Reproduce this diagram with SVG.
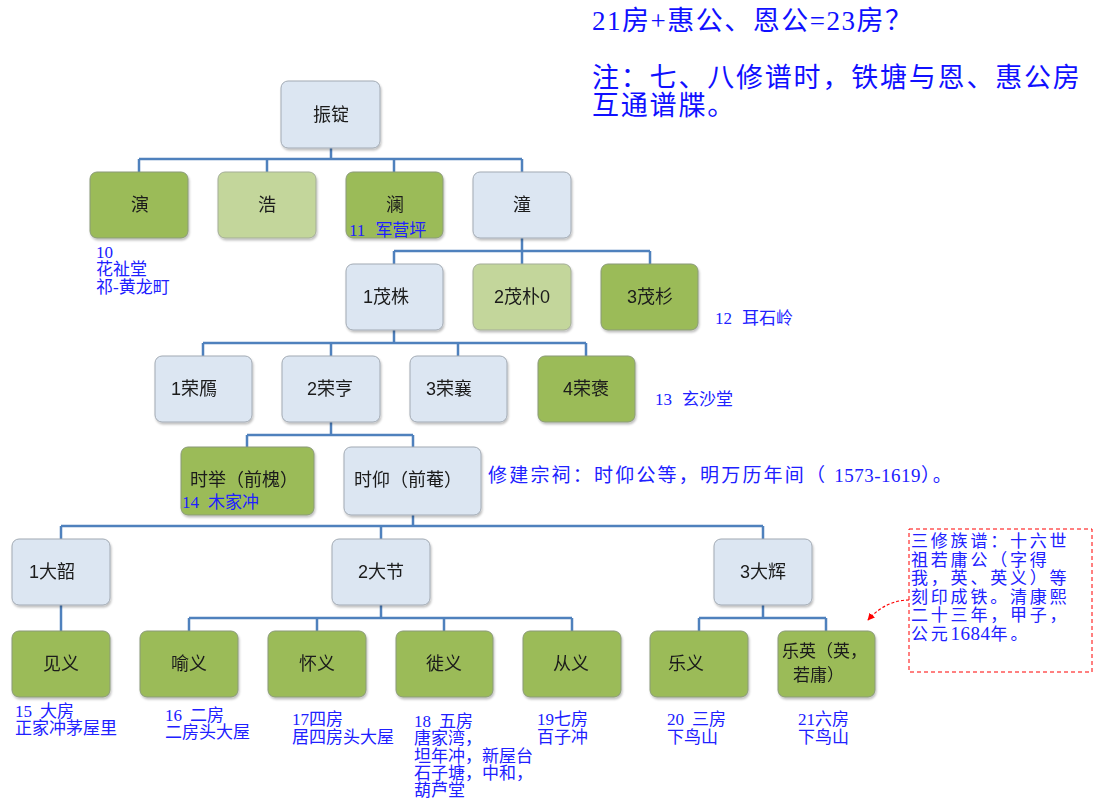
<svg xmlns="http://www.w3.org/2000/svg" width="1101" height="808" viewBox="0 0 1101 808">
<style>
.blue{fill:#dce6f2;stroke:#a2aab4;stroke-width:1}
.dg{fill:#9bbb59;stroke:#8a9a78;stroke-width:1}
.lg{fill:#c3d69b;stroke:#a4ad98;stroke-width:1}
.nt{font-family:"Liberation Sans","Noto Sans CJK SC",sans-serif;font-size:18px;fill:#1a1a1a;text-anchor:middle}
.ann{font-family:"Liberation Serif","Noto Sans CJK SC",serif;font-size:17px;fill:#2020ff}
.con{fill:none;stroke:#4f81bd;stroke-width:2.5}
.num{letter-spacing:0.5px}
</style>
<defs>
<filter id="sh" x="-10%" y="-10%" width="130%" height="130%">
<feDropShadow dx="1" dy="2" stdDeviation="1.2" flood-color="#000" flood-opacity="0.25"/>
</filter>
<marker id="ah" viewBox="0 0 10 10" refX="9" refY="5" markerWidth="6" markerHeight="6" orient="auto">
<path d="M0,0 L10,5 L0,10 z" fill="#ff0000"/>
</marker>
</defs>
<rect width="1101" height="808" fill="#ffffff"/>

<g id="connectors">
<path class="con" d="M331,148V159 M139,159H522 M139,159V172 M267,159V172 M394,159V172 M522,159V172"/>
<path class="con" d="M522,238V251 M394,251H650 M394,251V264 M522,251V264 M650,251V264"/>
<path class="con" d="M394,330V343 M203,343H586 M203,343V356 M331,343V356 M458,343V356 M586,343V356"/>
<path class="con" d="M331,422V435 M247,435H413 M247,435V447 M413,435V447"/>
<path class="con" d="M413,515V526 M61,526H763 M61,526V539 M381,526V539 M763,526V539"/>
<path class="con" d="M61,605V631"/>
<path class="con" d="M381,605V618 M189,618H572 M189,618V631 M317,618V631 M444,618V631 M572,618V631"/>
<path class="con" d="M763,605V618 M699,618H826 M699,618V631 M826,618V631"/>
<path d="M909,600 C895,600 880,606 868,620" fill="none" stroke="#ff0000" stroke-width="1.2" stroke-dasharray="3,2" marker-end="url(#ah)"/>
</g>

<g id="n-root" filter="url(#sh)"><rect class="blue" x="281" y="81" width="99" height="67" rx="7"/><text class="nt" x="331" y="121">振锭</text></g>
<g id="n-yan" filter="url(#sh)"><rect class="dg" x="90" y="172" width="98" height="66" rx="7"/><text class="nt" x="140" y="211">演</text></g>
<g id="n-hao" filter="url(#sh)"><rect class="lg" x="218" y="172" width="98" height="66" rx="7"/><text class="nt" x="267" y="211">浩</text></g>
<g id="n-lan" filter="url(#sh)"><rect class="dg" x="346" y="172" width="97" height="66" rx="7"/><text class="nt" x="395" y="211">澜</text></g>
<g id="n-tong" filter="url(#sh)"><rect class="blue" x="473" y="172" width="98" height="66" rx="7"/><text class="nt" x="522" y="211">潼</text></g>

<g id="n-maozhu" filter="url(#sh)"><rect class="blue" x="346" y="264" width="97" height="66" rx="7"/><text class="nt" x="386" y="303">1茂株</text></g>
<g id="n-maopu" filter="url(#sh)"><rect class="lg" x="473" y="264" width="98" height="66" rx="7"/><text class="nt" x="522" y="303">2茂朴0</text></g>
<g id="n-maoshan" filter="url(#sh)"><rect class="dg" x="601" y="264" width="97" height="66" rx="7"/><text class="nt" x="650" y="303">3茂杉</text></g>

<g id="n-rongyan" filter="url(#sh)"><rect class="blue" x="155" y="356" width="97" height="66" rx="7"/><text class="nt" x="194" y="395">1荣鴈</text></g>
<g id="n-rongheng" filter="url(#sh)"><rect class="blue" x="282" y="356" width="98" height="66" rx="7"/><text class="nt" x="330" y="395">2荣亨</text></g>
<g id="n-rongxiang" filter="url(#sh)"><rect class="blue" x="410" y="356" width="97" height="66" rx="7"/><text class="nt" x="449" y="395">3荣襄</text></g>
<g id="n-rongbao" filter="url(#sh)"><rect class="dg" x="538" y="356" width="97" height="66" rx="7"/><text class="nt" x="586" y="395">4荣褒</text></g>

<g id="n-shiju" filter="url(#sh)"><rect class="dg" x="181" y="447" width="133" height="68" rx="7"/><text class="nt" x="244" y="486">时举（前槐）</text></g>
<g id="n-shiyang" filter="url(#sh)"><rect class="blue" x="344" y="447" width="137" height="68" rx="7"/><text class="nt" x="408" y="486">时仰（前菴）</text></g>

<g id="n-dashao" filter="url(#sh)"><rect class="blue" x="12" y="539" width="98" height="66" rx="7"/><text class="nt" x="52" y="578">1大韶</text></g>
<g id="n-dajie" filter="url(#sh)"><rect class="blue" x="332" y="539" width="98" height="66" rx="7"/><text class="nt" x="381" y="578">2大节</text></g>
<g id="n-dahui" filter="url(#sh)"><rect class="blue" x="714" y="539" width="98" height="66" rx="7"/><text class="nt" x="763" y="578">3大辉</text></g>

<g id="n-jianyi" filter="url(#sh)"><rect class="dg" x="12" y="631" width="98" height="66" rx="7"/><text class="nt" x="61" y="670">见义</text></g>
<g id="n-yuyi" filter="url(#sh)"><rect class="dg" x="140" y="631" width="98" height="66" rx="7"/><text class="nt" x="189" y="670">喻义</text></g>
<g id="n-huaiyi" filter="url(#sh)"><rect class="dg" x="268" y="631" width="98" height="66" rx="7"/><text class="nt" x="317" y="670">怀义</text></g>
<g id="n-xiyi" filter="url(#sh)"><rect class="dg" x="396" y="631" width="97" height="66" rx="7"/><text class="nt" x="444" y="670">徙义</text></g>
<g id="n-congyi" filter="url(#sh)"><rect class="dg" x="523" y="631" width="98" height="66" rx="7"/><text class="nt" x="571" y="670">从义</text></g>
<g id="n-leyi" filter="url(#sh)"><rect class="dg" x="650" y="631" width="98" height="66" rx="7"/><text class="nt" x="686" y="670">乐义</text></g>
<g id="n-leying" filter="url(#sh)"><rect class="dg" x="778" y="631" width="97" height="66" rx="7"/><text class="nt" x="782" y="657" style="text-anchor:start;font-size:17px">乐英（英，</text><text class="nt" x="793" y="681" style="text-anchor:start;font-size:17px">若庸）</text></g>

<g id="labels">
<text class="ann" x="96" y="258">10</text>
<text class="ann" x="96" y="275">花祉堂</text>
<text class="ann" x="96" y="293">祁-黄龙町</text>
<text class="ann" x="349" y="236">11<tspan dx="10">军营坪</tspan></text>
<text class="ann" x="715" y="324">12<tspan dx="10">耳石岭</tspan></text>
<text class="ann" x="655" y="405">13<tspan dx="10">玄沙堂</tspan></text>
<text class="ann" x="182" y="508">14<tspan dx="9">木家冲</tspan></text>
<text class="ann" x="488" y="482" style="font-size:19px;letter-spacing:2.2px">修建宗祠：时仰公等，明万历年间（ <tspan class="num">1573-1619</tspan>）。</text>
<text class="ann" x="592" y="30" style="font-size:27px;fill:#1010ff;letter-spacing:1.5px">21房+惠公、恩公=23房？</text>
<text class="ann" x="592" y="87" style="font-size:27px;fill:#1010ff;letter-spacing:1.8px">注：七、八修谱时，铁塘与恩、惠公房</text>
<text class="ann" x="592" y="115" style="font-size:27px;fill:#1010ff;letter-spacing:1.8px">互通谱牒。</text>
<text class="ann" x="15" y="717">15<tspan dx="8">大房</tspan></text>
<text class="ann" x="15" y="734">正家冲茅屋里</text>
<text class="ann" x="165" y="721">16<tspan dx="8">二房</tspan></text>
<text class="ann" x="165" y="738">二房头大屋</text>
<text class="ann" x="292" y="725">17四房</text>
<text class="ann" x="292" y="743">居四房头大屋</text>
<text class="ann" x="414" y="727">18<tspan dx="8">五房</tspan></text>
<text class="ann" x="414" y="744">唐家湾，</text>
<text class="ann" x="414" y="762">坦年冲，新屋台</text>
<text class="ann" x="414" y="779">石子塘，中和，</text>
<text class="ann" x="414" y="796">葫芦堂</text>
<text class="ann" x="537" y="725">19七房</text>
<text class="ann" x="537" y="743">百子冲</text>
<text class="ann" x="667" y="725">20<tspan dx="8">三房</tspan></text>
<text class="ann" x="667" y="743">下鸟山</text>
<text class="ann" x="798" y="725">21六房</text>
<text class="ann" x="798" y="743">下鸟山</text>
</g>

<g id="note-box">
<rect x="909" y="529" width="183" height="143" fill="none" stroke="#ff0000" stroke-width="1" stroke-dasharray="4,3"/>
<g class="ann" style="font-size:17px;letter-spacing:2.8px">
<text x="911" y="547">三修族谱：十六世</text>
<text x="911" y="566">祖若庸公（字得</text>
<text x="911" y="584">我，英、英义）等</text>
<text x="911" y="603">刻印成铁。清康熙</text>
<text x="911" y="621">二十三年，甲子，</text>
<text x="911" y="640">公元<tspan style="font-size:19px;letter-spacing:0.5px">1684</tspan>年。</text>
</g>
</g>
</svg>
